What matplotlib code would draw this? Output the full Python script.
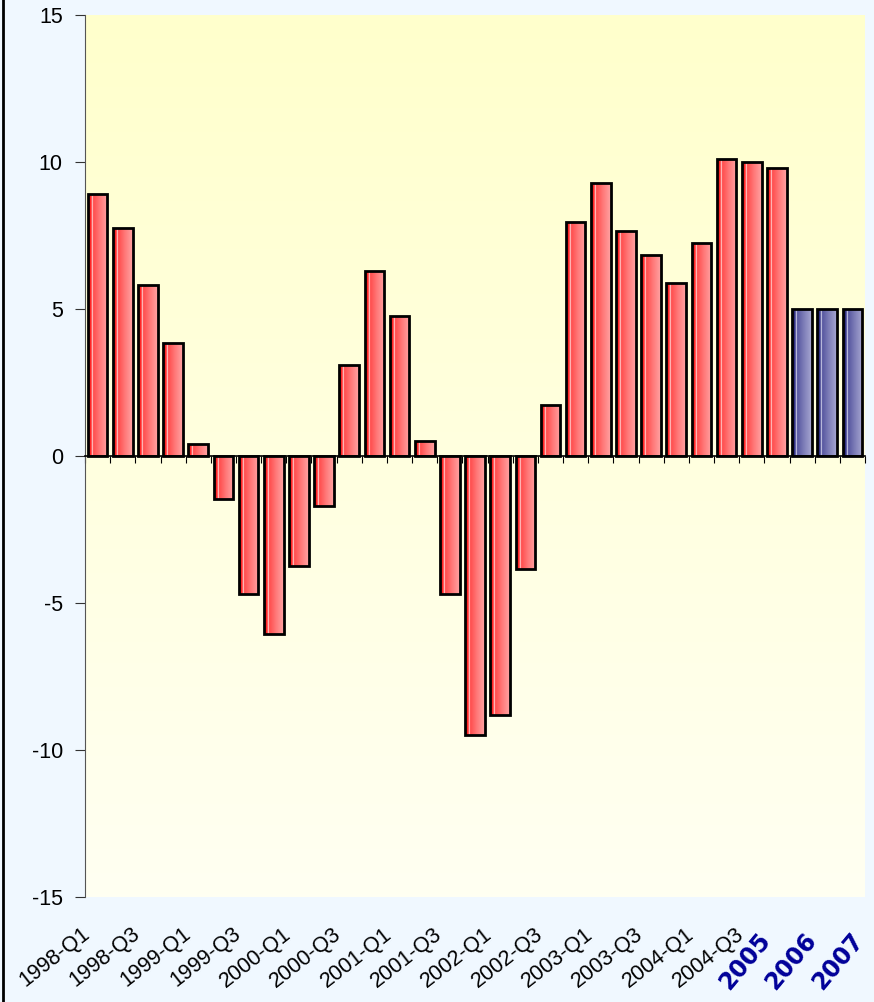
import numpy as np
import matplotlib.pyplot as plt
from matplotlib.colors import LinearSegmentedColormap
from matplotlib.transforms import blended_transform_factory

plt.rcParams['font.family'] = ['Liberation Sans', 'DejaVu Sans']
plt.rcParams['axes.unicode_minus'] = False

# quarterly growth, then yearly forecasts
quarters = [f'{y}-Q{q}' for y in range(1998, 2005) for q in range(1, 5)]
quarter_values = [8.9, 7.75, 5.8, 3.85,
                  0.4, -1.45, -4.7, -6.05,
                  -3.75, -1.7, 3.1, 6.3,
                  4.75, 0.5, -4.7, -9.5,
                  -8.8, -3.85, 1.75, 7.95,
                  9.3, 7.65, 6.85, 5.9,
                  7.25, 10.1, 10.0, 9.8]
years = ['2005', '2006', '2007']
year_values = [5.0, 5.0, 5.0]

labels = quarters + years
values = quarter_values + year_values
n = len(labels)

red_cmap = LinearSegmentedColormap.from_list('red', [
    (0.0, '#ff1010'), (0.17, '#ff3030'), (0.21, '#fff4f4'), (0.26, '#ff4c4c'),
    (0.6, '#ff7878'), (1.0, '#ffa4a4')])
blue_cmap = LinearSegmentedColormap.from_list('blue', [
    (0.0, '#1a1a6c'), (0.17, '#38388a'), (0.21, '#f4f4ff'), (0.26, '#5656a0'),
    (0.6, '#7e7eb8'), (1.0, '#a8a8d2')])

fig = plt.figure(figsize=(8.74, 10.02), dpi=100, facecolor='#f0f8ff')
ax = fig.add_axes([0.0973, 0.1048, 0.8924, 0.8802])
ax.set_facecolor('none')

# plot area: yellow fading to near white
bg = LinearSegmentedColormap.from_list('bg', ['#fffff2', '#ffffcc'])
ax.imshow(np.linspace(0, 1, 256).reshape(-1, 1), cmap=bg, origin='lower',
          extent=[0, 1, 0, 1], transform=ax.transAxes, aspect='auto', zorder=0)

x = np.arange(n)
bars = ax.bar(x, values, width=0.78, facecolor='none', edgecolor='black',
              linewidth=2, zorder=3)
grad = np.linspace(0, 1, 128).reshape(1, -1)
for i, b in enumerate(bars):
    cmap = blue_cmap if labels[i] in years else red_cmap
    x0 = b.get_x()
    y0, y1 = sorted([0, values[i]])
    im = ax.imshow(grad, cmap=cmap, extent=[x0, x0 + b.get_width(), y0, y1],
                   aspect='auto', zorder=2)
    im.set_clip_path(b)

ax.set_xlim(-0.5, n - 0.5)
ax.set_ylim(-15, 15)
ax.set_yticks([-15, -10, -5, 0, 5, 10, 15])
ax.tick_params(axis='y', labelsize=15.5, length=7, pad=9, color='#333333')

for s in ['top', 'right']:
    ax.spines[s].set_visible(False)
ax.spines['left'].set_color('#555555')
ax.spines['bottom'].set_position(('data', 0))
ax.spines['bottom'].set_linewidth(1.2)
ax.set_xticks(np.arange(n + 1) - 0.5)
ax.set_xticklabels([])
ax.tick_params(axis='x', length=5, direction='out')

tr = blended_transform_factory(ax.transData, ax.transAxes)
mid = labels.index('2006')
for i, lab in enumerate(labels):
    if lab in years:
        xpos = i + (i - mid) * 0.85 - 0.95
        ax.text(xpos, -0.036, lab, transform=tr, rotation=50, ha='right',
                va='top', rotation_mode='anchor', fontsize=17, fontweight='bold',
                color='#000099', family='DejaVu Sans')
    elif i % 2 == 0:
        ax.text(i - 0.66, -0.03, lab, transform=tr, rotation=38, ha='right',
                va='top', rotation_mode='anchor', fontsize=15.5)

fig.add_artist(plt.Line2D([0.003, 0.003], [0, 1], transform=fig.transFigure,
                          color='black', linewidth=2))

fig.savefig('out.png', dpi=100, facecolor=fig.get_facecolor())
